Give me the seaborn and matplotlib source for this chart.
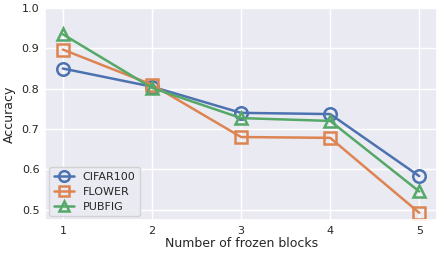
import matplotlib
matplotlib.use("Agg")
import matplotlib.pyplot as plt
import seaborn as sns
import pandas as pd

blocks = [1, 2, 3, 4, 5]
cifar100 = [0.850, 0.805, 0.740, 0.737, 0.583]
flower = [0.897, 0.810, 0.680, 0.678, 0.492]
pubfig = [0.935, 0.802, 0.727, 0.720, 0.545]

series = {"CIFAR100": cifar100, "FLOWER": flower, "PUBFIG": pubfig}
markers = {"CIFAR100": "o", "FLOWER": "s", "PUBFIG": "^"}

sns.set_theme(style="darkgrid", palette="deep")
plt.rcParams['font.family'] = ['DejaVu Sans']

fig, ax = plt.subplots(figsize=(4.46, 2.6), dpi=100)
colors = sns.color_palette("deep")
for i, (name, vals) in enumerate(series.items()):
    df = pd.DataFrame({"x": blocks, "y": vals})
    sns.lineplot(data=df, x="x", y="y", ax=ax, color=colors[i], marker=markers[name],
                 markersize=9, markerfacecolor="none", markeredgecolor=colors[i],
                 markeredgewidth=1.8, linewidth=1.8, label=name)

ax.set_ylim(0.473, 1.0)
ax.set_xticks(blocks)
ax.set_xlabel("Number of frozen blocks", fontsize=9, labelpad=0.5)
ax.set_ylabel("Accuracy", fontsize=9, labelpad=4)
ax.tick_params(labelsize=8, length=0, pad=4)
ax.legend(loc="lower left", fontsize=8, handlelength=1.8, labelspacing=0.45,
          markerscale=0.85, borderaxespad=0.4)

fig.subplots_adjust(left=0.101, right=0.98, top=0.969, bottom=0.152)
plt.savefig("out.png", dpi=100)
